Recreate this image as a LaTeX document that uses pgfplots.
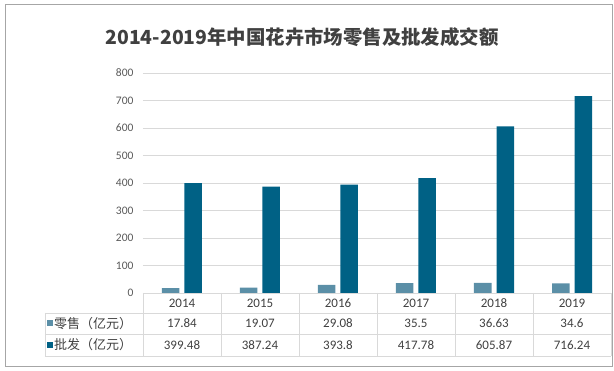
\documentclass[border=0pt]{standalone}
\usepackage{pgfplots}
\pgfplotsset{compat=1.18}
\usepackage{fontspec}
\setmainfont{Carlito}
\newfontfamily\cjk{Noto Sans CJK SC}
\definecolor{lightbar}{RGB}{91,143,167}
\definecolor{darkbar}{RGB}{0,97,133}
\definecolor{gridc}{RGB}{217,217,217}
\definecolor{txt}{RGB}{64,64,64}
\definecolor{tickc}{RGB}{89,89,89}
\definecolor{framec}{RGB}{166,166,166}
\begin{document}
\begin{tikzpicture}
\begin{axis}[
  scale only axis,
  width=468pt, height=220pt,
  ymin=0, ymax=800, ytick={0,100,...,800},
  xmin=-0.5, xmax=5.5, xtick=\empty,
  ybar=5pt, bar width=17.5pt,
  axis line style={draw=none},
  ymajorgrids, grid style={gridc, line width=0.75pt},
  major tick length=0pt,
  yticklabel style={text=tickc, font=\fontsize{11.5}{13}\selectfont, xshift=-6pt},
  /pgf/number format/assume math mode=true,
  clip=false,
]
\addplot[fill=lightbar, draw=none] coordinates {(0,17.84) (1,19.07) (2,29.08) (3,35.5) (4,36.63) (5,34.6)};
\addplot[fill=darkbar, draw=none] coordinates {(0,399.48) (1,387.24) (2,393.8) (3,417.78) (4,605.87) (5,716.24)};
\coordinate (O) at (rel axis cs:0,0);
\end{axis}
\begin{scope}[shift={(O)}, xshift=-143pt, yshift=-78pt, x=1pt, y=1pt]
\path (0,0) rectangle (614,371);
\draw[framec, line width=0.8pt] (5,4.5) rectangle (612,366.5);
\node[font=\cjk\bfseries\fontsize{19.4}{23}\selectfont, text=txt] at (302,334) {2014-2019年中国花卉市场零售及批发成交额};
% data table
\begin{scope}[gridc, line width=0.75pt]
\draw (45,58) -- (611,58);
\draw (45,37) -- (611,37);
\draw (45,15) -- (611,15);
\draw (45,58) -- (45,15);
\foreach \k in {0,...,6} { \draw (143+78*\k,78) -- (143+78*\k,15); }
\end{scope}
\foreach \y [count=\i from 0] in {2014,2015,2016,2017,2018,2019} {
  \node[text=txt, font=\fontsize{13}{15}\selectfont] at (182+78*\i,68) {\y};
}
\foreach \v [count=\i from 0] in {17.84,19.07,29.08,35.5,36.63,34.6} {
  \node[text=txt, font=\fontsize{13}{15}\selectfont] at (182+78*\i,47.5) {\v};
}
\foreach \v [count=\i from 0] in {399.48,387.24,393.8,417.78,605.87,716.24} {
  \node[text=txt, font=\fontsize{13}{15}\selectfont] at (182+78*\i,26) {\v};
}
\fill[lightbar] (47,44.5) rectangle (53,50.5);
\fill[darkbar] (47,23) rectangle (53,29);
\node[anchor=west, inner sep=0pt, text=txt, font=\cjk\fontsize{13}{15}\selectfont] at (54,47.5) {零售（亿元）};
\node[anchor=west, inner sep=0pt, text=txt, font=\cjk\fontsize{13}{15}\selectfont] at (54,26) {批发（亿元）};
\end{scope}
\end{tikzpicture}
\end{document}
